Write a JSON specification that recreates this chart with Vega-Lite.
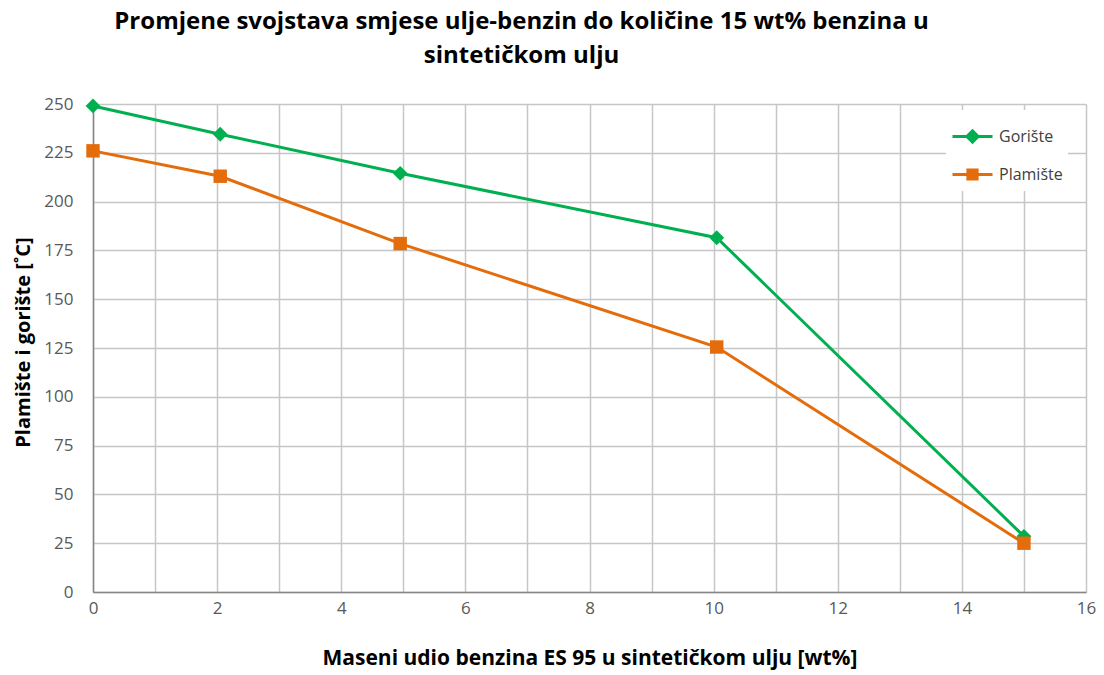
{
  "$schema": "https://vega.github.io/schema/vega-lite/v6.json",
  "width": 993,
  "height": 488,
  "autosize": {"type": "none"},
  "padding": {"left": 93, "top": 104, "right": 18, "bottom": 83},
  "background": "white",
  "title": {
    "text": ["Promjene svojstava smjese ulje-benzin do količine 15 wt% benzina u", "sintetičkom ulju"],
    "font": "Open Sans",
    "fontSize": 24,
    "fontWeight": "bold",
    "color": "#000000",
    "anchor": "middle",
    "dx": -68,
    "offset": 27,
    "lineHeight": 34
  },
  "data": {
    "values": [
      {"serija": "Gorište", "udio": 0, "temp": 249},
      {"serija": "Gorište", "udio": 2.05, "temp": 234.5},
      {"serija": "Gorište", "udio": 4.95, "temp": 214.5},
      {"serija": "Gorište", "udio": 10.05, "temp": 181.5},
      {"serija": "Gorište", "udio": 15, "temp": 28.5},
      {"serija": "Plamište", "udio": 0, "temp": 226},
      {"serija": "Plamište", "udio": 2.05, "temp": 213},
      {"serija": "Plamište", "udio": 4.95, "temp": 178.5},
      {"serija": "Plamište", "udio": 10.05, "temp": 125.5},
      {"serija": "Plamište", "udio": 15, "temp": 25}
    ]
  },
  "encoding": {
    "x": {
      "field": "udio",
      "type": "quantitative",
      "scale": {"domain": [0, 16], "nice": false, "zero": false},
      "axis": {
        "title": "Maseni udio benzina ES 95 u sintetičkom ulju [wt%]",
        "values": [0, 1, 2, 3, 4, 5, 6, 7, 8, 9, 10, 11, 12, 13, 14, 15, 16],
        "labelExpr": "datum.value % 2 ? '' : datum.label",
        "labelFlush": false,
        "titlePadding": 31,
        "titleFontSize": 21,
        "labelPadding": 8
      }
    },
    "y": {
      "field": "temp",
      "type": "quantitative",
      "scale": {"domain": [0, 250], "nice": false},
      "axis": {
        "title": "Plamište i gorište [˚C]",
        "values": [0, 25, 50, 75, 100, 125, 150, 175, 200, 225, 250],
        "labelPadding": 20,
        "labelFlush": false,
        "titlePadding": 10,
        "titleFontSize": 20,
        "titleY": 238
      }
    },
    "color": {
      "field": "serija",
      "type": "nominal",
      "scale": {"domain": ["Gorište", "Plamište"], "range": ["#00B050", "#E46C0A"]},
      "legend": {
        "title": null,
        "orient": "none",
        "legendX": 853,
        "legendY": 6,
        "fillColor": "white",
        "padding": 5,
        "symbolSize": 1600,
        "symbolStrokeWidth": 3,
        "labelFont": "Open Sans",
        "labelFontSize": 16,
        "labelColor": "#404040",
        "labelOffset": 5,
        "rowPadding": 4,
        "encode": {
          "symbols": {
            "update": {
              "shape": {"signal": "datum.value === 'Gorište' ? 'M-1,0L1,0M0,-0.28L0.28,0L0,0.28L-0.28,0Z' : 'M-1,0L1,0M-0.23,-0.23L0.23,-0.23L0.23,0.23L-0.23,0.23Z'"},
              "stroke": {"scale": "color", "field": "value"},
              "fill": {"scale": "color", "field": "value"},
              "strokeWidth": {"value": 3},
              "opacity": {"value": 1}
            }
          }
        }
      }
    }
  },
  "layer": [
    {"mark": {"type": "line", "strokeWidth": 3}},
    {
      "transform": [{"filter": "datum.serija === 'Gorište'"}],
      "mark": {"type": "point", "shape": "diamond", "filled": true, "opacity": 1, "size": 220}
    },
    {
      "transform": [{"filter": "datum.serija === 'Plamište'"}],
      "mark": {"type": "point", "shape": "square", "filled": true, "opacity": 1, "size": 180}
    }
  ],
  "config": {
    "view": {"stroke": null},
    "axis": {
      "labelFont": "Open Sans",
      "labelFontSize": 17,
      "labelColor": "#595959",
      "titleFont": "Open Sans",
      "titleFontWeight": "bold",
      "titleColor": "#000000",
      "gridColor": "#C6C6C6",
      "gridWidth": 1.5,
      "gridOpacity": 1,
      "domainColor": "#868686",
      "domainWidth": 1.5,
      "ticks": false,
      "tickSize": 0
    }
  }
}
